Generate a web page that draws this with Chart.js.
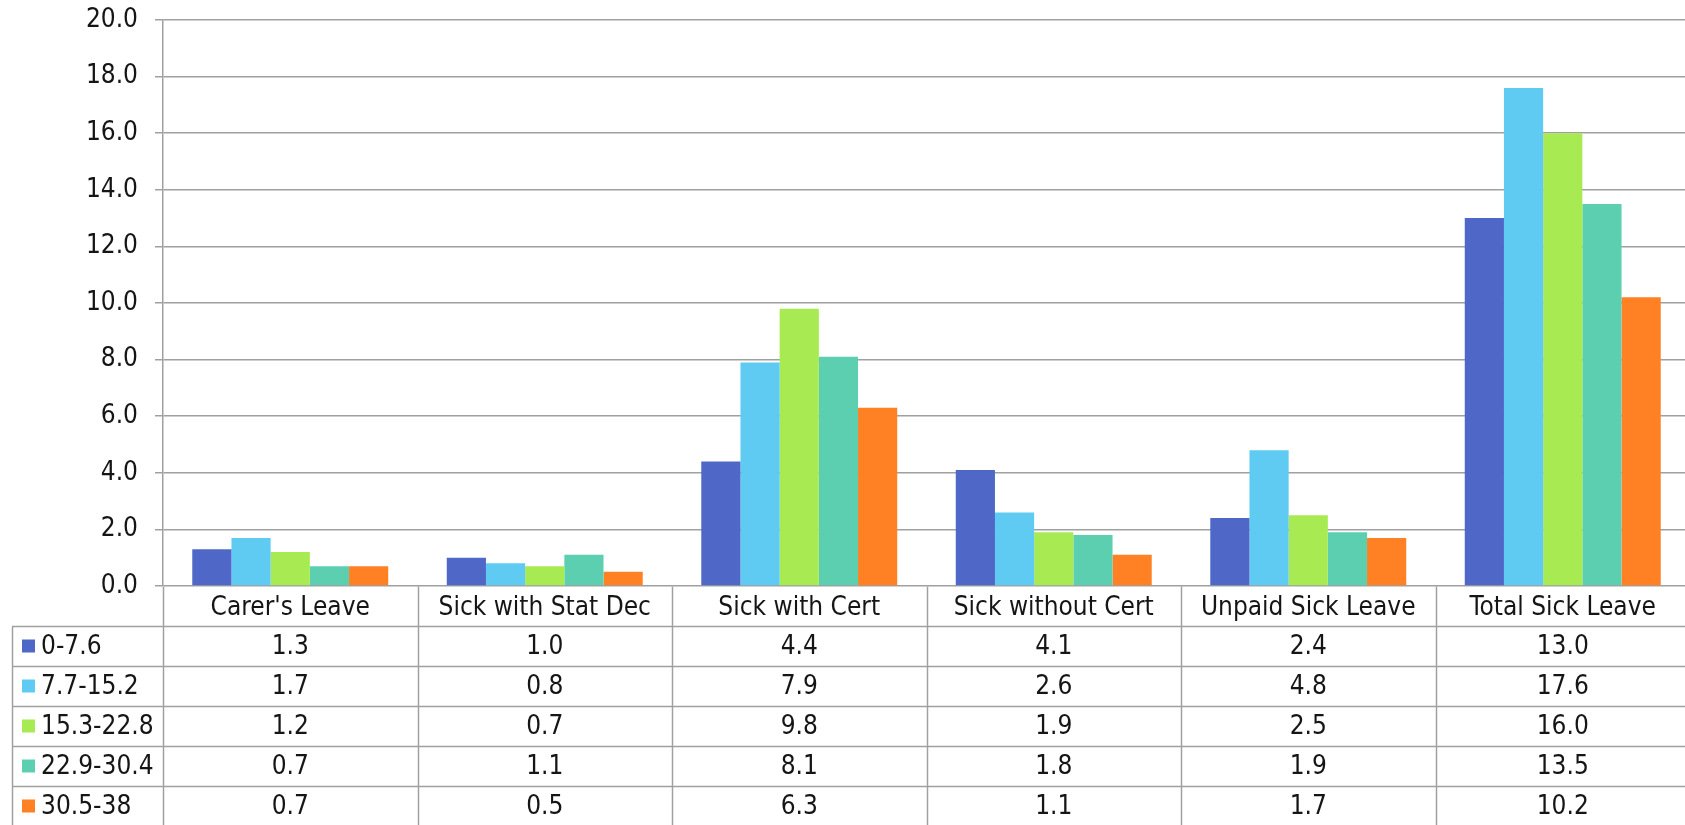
<!DOCTYPE html>
<html>
<head>
<meta charset="utf-8">
<title>Sick leave by hours band</title>
<script src="https://cdn.jsdelivr.net/npm/chart.js@4.4.1/dist/chart.umd.min.js"></script>
<style>
  html, body { margin: 0; padding: 0; background: #ffffff; overflow: hidden; }
  #wrap { position: relative; width: 1700px; height: 830px; }
</style>
</head>
<body>
<div id="wrap"><canvas id="chart"></canvas></div>
<script>
// Leave categories (x axis / table header)
const categories = ["Carer's Leave", "Sick with Stat Dec", "Sick with Cert", "Sick without Cert", "Unpaid Sick Leave", "Total Sick Leave"];

// Hours-band series names
const seriesNames = ["0-7.6", "7.7-15.2", "15.3-22.8", "22.9-30.4", "30.5-38"];

// Average days per band, one value per category
const band0to7_6    = [1.3, 1.0, 4.4, 4.1, 2.4, 13.0];
const band7_7to15_2 = [1.7, 0.8, 7.9, 2.6, 4.8, 17.6];
const band15_3to22_8 = [1.2, 0.7, 9.8, 1.9, 2.5, 16.0];
const band22_9to30_4 = [0.7, 1.1, 8.1, 1.8, 1.9, 13.5];
const band30_5to38  = [0.7, 0.5, 6.3, 1.1, 1.7, 10.2];

// Y axis tick values
const yTicks = [0, 2, 4, 6, 8, 10, 12, 14, 16, 18, 20];

const seriesValues = [band0to7_6, band7_7to15_2, band15_3to22_8, band22_9to30_4, band30_5to38];
const seriesColors = ["#4f68c8", "#5fcbf2", "#a8ea52", "#5dcfb1", "#ff8123"];

const FONT_FAMILY = "'DejaVu Sans Condensed', 'DejaVu Sans', sans-serif";
const FONT_SIZE = 26;
const TEXT_COLOR = "#151515";
const GRID_COLOR = "#a0a0a0";
const ROW_H = 40;
const TABLE_LEFT = 12;

// Data table drawn under the plot, aligned to the category scale
const dataTablePlugin = {
  id: 'dataTable',
  afterDraw(chart) {
    const ctx = chart.ctx;
    const { left, right, bottom } = chart.chartArea;
    const xs = chart.scales.x;
    const n = categories.length;
    const cw = (right - left) / n;
    const rows = seriesNames.length;
    const top = Math.round(bottom) + 0.5;

    ctx.save();
    ctx.strokeStyle = GRID_COLOR;
    ctx.lineWidth = 1.5;

    // horizontal rules
    for (let k = 1; k <= rows + 1; k++) {
      const y = top + k * ROW_H;
      ctx.beginPath();
      ctx.moveTo(TABLE_LEFT, y);
      ctx.lineTo(right + 20, y);
      ctx.stroke();
    }
    // left border of the legend column
    ctx.beginPath();
    ctx.moveTo(TABLE_LEFT + 0.5, top + ROW_H);
    ctx.lineTo(TABLE_LEFT + 0.5, top + (rows + 1) * ROW_H);
    ctx.stroke();
    // column separators
    for (let i = 0; i <= n; i++) {
      const x = Math.round(left + i * cw) + 0.5;
      ctx.beginPath();
      ctx.moveTo(x, top);
      ctx.lineTo(x, top + (rows + 1) * ROW_H);
      ctx.stroke();
    }

    ctx.fillStyle = TEXT_COLOR;
    ctx.font = FONT_SIZE + "px " + FONT_FAMILY;
    ctx.textBaseline = 'middle';
    ctx.textAlign = 'center';

    // header row: category names
    categories.forEach((c, i) => {
      ctx.fillText(c, xs.getPixelForValue(i), top + ROW_H / 2 + 2);
    });

    // series rows
    seriesNames.forEach((name, r) => {
      const cy = top + ROW_H * (r + 1) + ROW_H / 2;
      ctx.fillStyle = seriesColors[r];
      ctx.fillRect(22, cy - 7, 13, 13);
      ctx.fillStyle = TEXT_COLOR;
      ctx.textAlign = 'left';
      ctx.fillText(name, 41, cy + 1);
      ctx.textAlign = 'center';
      seriesValues[r].forEach((v, i) => {
        ctx.fillText(v.toFixed(1), xs.getPixelForValue(i), cy + 1);
      });
    });
    ctx.restore();
  }
};

new Chart(document.getElementById('chart'), {
  type: 'bar',
  data: {
    labels: categories,
    datasets: seriesNames.map((name, i) => ({
      label: name,
      data: seriesValues[i],
      backgroundColor: seriesColors[i],
      borderWidth: 0,
      categoryPercentage: 0.77,
      barPercentage: 1.0
    }))
  },
  options: {
    responsive: true,
    maintainAspectRatio: false,
    animation: false,
    devicePixelRatio: 1,
    layout: { padding: { left: 0, right: 10, top: 20, bottom: 244 } },
    plugins: {
      legend: { display: false },
      tooltip: { enabled: false },
      title: { display: false }
    },
    scales: {
      x: {
        display: false
      },
      y: {
        min: 0,
        max: 20,
        afterFit(scale) {
          scale.width = 163;
          scale.paddingTop = 0;
          scale.paddingBottom = 0;
        },
        afterBuildTicks(scale) { scale.ticks = yTicks.map(v => ({ value: v })); },
        ticks: {
          padding: 17,
          color: TEXT_COLOR,
          font: { family: FONT_FAMILY, size: FONT_SIZE },
          callback: (v) => Number(v).toFixed(1)
        },
        grid: {
          color: GRID_COLOR,
          lineWidth: 1.5,
          drawTicks: true,
          tickLength: 8
        },
        border: { display: true, color: GRID_COLOR, width: 1.5 }
      }
    }
  },
  plugins: [dataTablePlugin]
});
</script>
</body>
</html>
